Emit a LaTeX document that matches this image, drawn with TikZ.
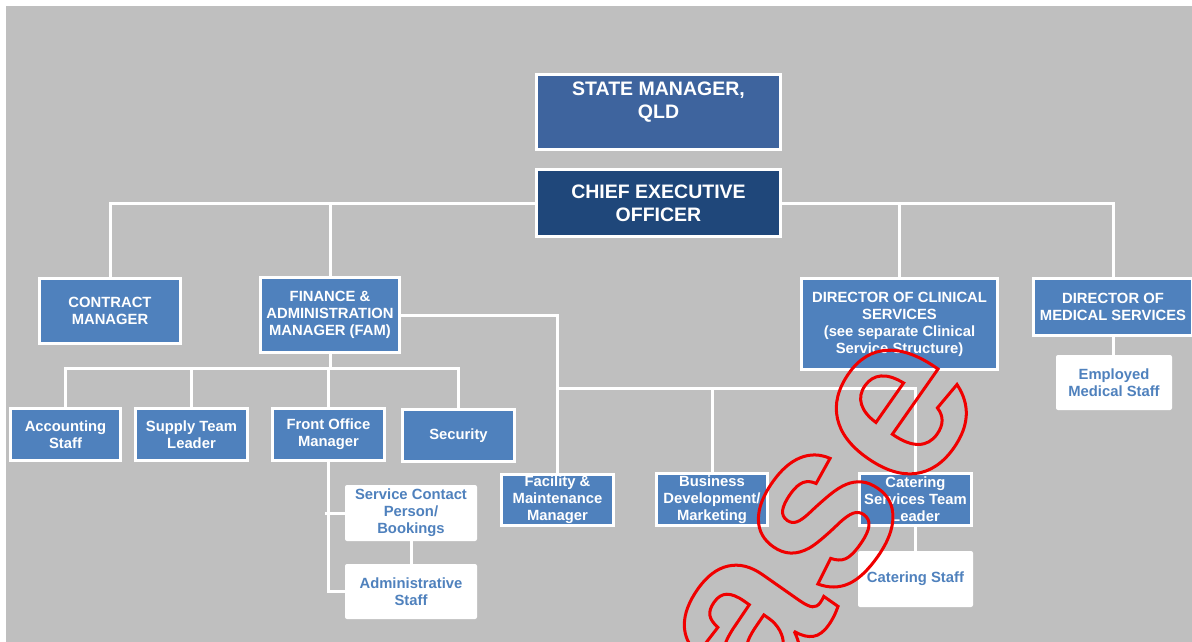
\documentclass[tikz,border=0pt]{standalone}
\usepackage{fontspec}
\setmainfont{Liberation Sans}
\definecolor{bggray}{RGB}{191,191,191}
\definecolor{boxblue}{RGB}{79,129,189}
\definecolor{smblue}{RGB}{62,100,158}
\definecolor{ceoblue}{RGB}{31,71,122}
\definecolor{wmred}{RGB}{240,0,0}
\pgfdeclarelayer{bg}
\pgfsetlayers{bg,main}
\begin{document}
\begin{tikzpicture}[x=1pt,y=-1pt,
  bluebox/.style={draw=white, line width=3pt, fill=boxblue, text=white, font=\bfseries\fontsize{14.8}{17}\selectfont, align=center, inner sep=0pt},
  whitebox/.style={fill=white, rounded corners=2pt, text=boxblue, font=\bfseries\fontsize{14.8}{17}\selectfont, align=center, inner sep=0pt},
  bigfont/.style={font=\bfseries\fontsize{19.5}{23}\selectfont},
  conn/.style={draw=white, line width=3pt},
  wm/.style={text=wmred, font=\bfseries\fontsize{235}{235}\selectfont, inner sep=0pt}
]
\useasboundingbox (0,0) rectangle (1192,642);
% boxes
\node[bluebox, fill=smblue, minimum width=244pt, minimum height=75pt] (sm) at (658.5,112) {};
\node[text=white, bigfont, align=center, inner sep=0pt] (smt) at (658.5,102) {STATE MANAGER,\\QLD};
\node[bluebox, fill=ceoblue, bigfont, minimum width=244pt, minimum height=67pt] (ceo) at (658.5,203) {CHIEF EXECUTIVE\\OFFICER};
\node[bluebox, minimum width=141pt, minimum height=65pt] (cm) at (110,311) {CONTRACT\\MANAGER};
\node[bluebox, minimum width=139pt, minimum height=75pt] (fam) at (330,315) {FINANCE \&\\ADMINISTRATION\\MANAGER (FAM)};
\node[bluebox, minimum width=196pt, minimum height=91pt] (dcs) at (899.5,324) {DIRECTOR OF CLINICAL\\SERVICES\\(see separate Clinical\\Service Structure)};
\node[bluebox, minimum width=159pt, minimum height=57pt] (dms) at (1113,307) {DIRECTOR OF\\MEDICAL SERVICES};
\node[whitebox, minimum width=116pt, minimum height=55pt] (ems) at (1114,382.5) {Employed\\Medical Staff};
\node[bluebox, minimum width=110pt, minimum height=52pt] (acc) at (65.5,434.5) {Accounting\\Staff};
\node[bluebox, minimum width=112pt, minimum height=52pt] (stl) at (191.5,434.5) {Supply Team\\Leader};
\node[bluebox, minimum width=112pt, minimum height=52pt] (fom) at (328.5,434.5) {Front Office\\Manager};
\node[bluebox, minimum width=112pt, minimum height=52pt] (sec) at (458.5,435.5) {Security};
\node[whitebox, minimum width=132pt, minimum height=56pt] (scp) at (411,513) {Service Contact\\Person/\\Bookings};
\node[whitebox, minimum width=132pt, minimum height=55pt] (adm) at (411,591.5) {Administrative\\Staff};
\node[bluebox, minimum width=112pt, minimum height=51pt] (fmm) at (557.5,500) {Facility \&\\Maintenance\\Manager};
\node[bluebox, minimum width=111pt, minimum height=52pt] (bdm) at (712,499.5) {Business\\Development/\\Marketing};
\node[bluebox, minimum width=112pt, minimum height=52pt] (cstl) at (915.5,499.5) {Catering\\Services Team\\Leader};
\node[whitebox, minimum width=115pt, minimum height=56pt] (cs) at (915.5,579) {Catering Staff};
\coordinate (fbus) at (329,368);
\coordinate (obus) at (557.5,388);
\begin{pgfonlayer}{bg}
\fill[white] (0,0) rectangle (1192,642);
\fill[bggray] (6,6) rectangle (1192,642);
\draw[conn] (ceo.west) -| (cm.north);
\draw[conn] (ceo.west) -| (fam.north);
\draw[conn] (ceo.east) -| (dcs.north);
\draw[conn] (ceo.east) -| (dms.north);
\draw[conn] (fam.south) -- (fam.south |- fbus);
\draw[conn] (acc.north) |- (fbus) -| (sec.north);
\draw[conn] (stl.north) -- (stl.north |- fbus);
\draw[conn] (fom.north) -- (fom.north |- fbus);
\draw[conn] (fam.east) -| (fmm.north);
\draw[conn] (obus) -| (cstl.north);
\draw[conn] (bdm.north) -- (bdm.north |- obus);
\draw[conn] (fom.south) |- (adm.west);
\draw[conn] (scp.west) -- ++(-20,0);
\draw[conn] (scp.south) -- (adm.north);
\draw[conn] (dms.south) -- (dms.south |- ems.north);
\draw[conn] (cstl.south) -- (cstl.south |- cs.north);
\end{pgfonlayer}
% watermark
\node[wm, rotate=55, anchor=base] (wmark) at (876,555) {\special{pdf:literal direct 3 w 1 Tr}ase\special{pdf:literal direct 0 Tr}};
\end{tikzpicture}
\end{document}
